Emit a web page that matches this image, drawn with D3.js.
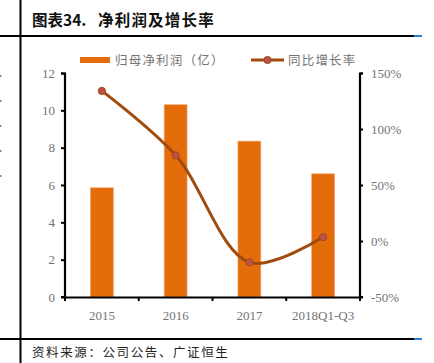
<!DOCTYPE html>
<html>
<head>
<meta charset="utf-8">
<script src="https://cdn.jsdelivr.net/npm/d3@7/dist/d3.min.js"></script>
<style>
  html, body { margin: 0; padding: 0; background: #fff; }
  svg { display: block; }
</style>
</head>
<body>
<div id="chart"></div>
<script>
// data
const categories = ["2015", "2016", "2017", "2018Q1-Q3"];
const profit = [5.85, 10.3, 8.35, 6.6];          // 归母净利润（亿）
const growth = [134, 76.5, -19, 3.5];            // 同比增长率 (%)
const leftTicks = [0, 2, 4, 6, 8, 10, 12];
const rightTicks = [-50, 0, 50, 100, 150];

const W = 434, H = 363;
const margin = {top: 73, right: 74, bottom: 66, left: 65};
const width = W - margin.left - margin.right;
const height = H - margin.top - margin.bottom;

const svg = d3.select("#chart").append("svg")
    .attr("width", W)
    .attr("height", H);

// page frame lines
svg.append("line").attr("x1", 20.5).attr("x2", 20.5).attr("y1", 0).attr("y2", H)
    .attr("stroke", "#000").attr("stroke-width", 2);
[36, 339].forEach(function(y) {
  svg.append("line").attr("x1", 0).attr("x2", 414).attr("y1", y).attr("y2", y)
      .attr("stroke", "#000").attr("stroke-width", 2);
  svg.append("line").attr("x1", 414).attr("x2", 422).attr("y1", y).attr("y2", y)
      .attr("stroke", "#2f7fd6").attr("stroke-width", 2);
});
// small dots on the left edge
[76, 101, 126, 151, 176].forEach(function(y) {
  svg.append("rect").attr("x", 0).attr("y", y - 1).attr("width", 1.5).attr("height", 2)
      .attr("fill", "#888");
});

const title = svg.append("text")
    .attr("y", 26)
    .attr("font-family", "'Noto Sans CJK SC', sans-serif")
    .attr("font-weight", "bold")
    .attr("font-size", 15.5)
    .attr("fill", "#111");
title.append("tspan").attr("x", 32).text("图表34.");
title.append("tspan").attr("x", 98).attr("letter-spacing", 1.2).text("净利润及增长率");

svg.append("text")
    .attr("x", 32).attr("y", 357)
    .attr("font-family", "'Noto Sans CJK SC', sans-serif")
    .attr("font-size", 12.5)
    .attr("letter-spacing", 1.6)
    .attr("fill", "#222")
    .text("资料来源：公司公告、广证恒生");

const g = svg.append("g")
    .attr("transform", "translate(" + margin.left + "," + margin.top + ")");

// scales
const x = d3.scaleBand()
    .domain(categories)
    .range([0, width])
    .paddingInner(0.69)
    .paddingOuter(0.345);
const xEdge = d3.scaleBand().domain(categories).range([0, width]).padding(0);
const y = d3.scaleLinear().domain([0, 12]).range([height, 0]);
const y2 = d3.scaleLinear().domain([-50, 150]).range([height, 0]);

// bars
g.selectAll(".bar")
    .data(profit)
  .enter().append("rect")
    .attr("class", "bar")
    .attr("fill", "#e46c0a")
    .attr("stroke", "#f0a36a")
    .attr("stroke-width", 0.6)
    .attr("x", function(d, i) { return x(categories[i]); })
    .attr("width", x.bandwidth())
    .attr("y", function(d) { return y(d); })
    .attr("height", function(d) { return height - y(d); });

const serif = "'Liberation Serif', 'Times New Roman', serif";

// left axis
const yAxis = g.append("g")
    .call(d3.axisLeft(y).tickValues(leftTicks).tickSize(4).tickPadding(6));
// right axis
const y2Axis = g.append("g")
    .attr("transform", "translate(" + width + ",0)")
    .call(d3.axisRight(y2).tickValues(rightTicks).tickSize(3).tickPadding(8)
      .tickFormat(function(d) { return d + "%"; }));
// bottom axis: labels at band centres, ticks at band edges
const xAxis = g.append("g")
    .attr("transform", "translate(0," + height + ")")
    .call(d3.axisBottom(x).tickSize(0).tickPadding(14));
xAxis.selectAll(".edge")
    .data(categories.concat(["end"]))
  .enter().append("line")
    .attr("class", "edge")
    .attr("x1", function(d) { return d === "end" ? width : xEdge(d); })
    .attr("x2", function(d) { return d === "end" ? width : xEdge(d); })
    .attr("y1", 0).attr("y2", 4)
    .attr("stroke", "#000").attr("stroke-width", 2);

[yAxis, y2Axis, xAxis].forEach(function(a) {
  a.select(".domain").attr("stroke", "#000").attr("stroke-width", 2.2);
  a.selectAll(".tick line").attr("stroke", "#000").attr("stroke-width", 2);
  a.selectAll(".tick text")
    .attr("font-family", serif)
    .attr("font-size", 13)
    .attr("fill", "#737373");
});
yAxis.select(".domain").attr("d", "M-4,0.5H0V" + height + "H-4");
y2Axis.select(".domain").attr("d", "M3,0.5H0V" + height + "H3");

// growth line
const line = d3.line()
    .x(function(d, i) { return x(categories[i]) + x.bandwidth() / 2; })
    .y(function(d) { return y2(d); })
    .curve(d3.curveCatmullRom.alpha(0.5));

g.append("path")
    .datum(growth)
    .attr("fill", "none")
    .attr("stroke", "#a04a0c")
    .attr("stroke-width", 3)
    .attr("d", line);

g.selectAll(".dot")
    .data(growth)
  .enter().append("circle")
    .attr("class", "dot")
    .attr("cx", function(d, i) { return x(categories[i]) + x.bandwidth() / 2; })
    .attr("cy", function(d) { return y2(d); })
    .attr("r", 3.6)
    .attr("fill", "#c0504d")
    .attr("stroke", "#a04a0c")
    .attr("stroke-width", 1);

// legend
const legend = svg.append("g")
    .attr("font-family", "'Noto Sans CJK SC', sans-serif")
    .attr("font-size", 12.5)
    .attr("letter-spacing", 1.2)
    .attr("fill", "#737373");
legend.append("rect").attr("x", 80).attr("y", 57).attr("width", 30).attr("height", 6)
    .attr("fill", "#e46c0a");
legend.append("text").attr("x", 115).attr("y", 64.5).text("归母净利润（亿）");
legend.append("line").attr("x1", 251).attr("x2", 284).attr("y1", 60).attr("y2", 60)
    .attr("stroke", "#a04a0c").attr("stroke-width", 3);
legend.append("circle").attr("cx", 267.5).attr("cy", 60).attr("r", 3.6)
    .attr("fill", "#c0504d").attr("stroke", "#a04a0c").attr("stroke-width", 1);
legend.append("text").attr("x", 288).attr("y", 64.5).text("同比增长率");
</script>
</body>
</html>
